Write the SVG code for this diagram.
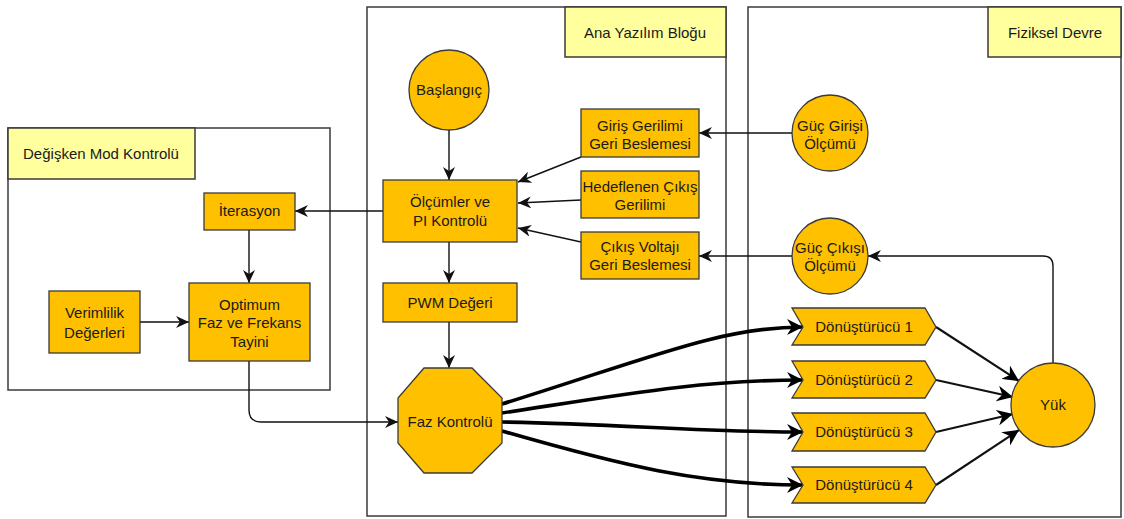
<svg xmlns="http://www.w3.org/2000/svg" width="1124" height="519" viewBox="0 0 1124 519">
<style>
text{font-family:"Liberation Sans",Arial,sans-serif;font-size:15px;fill:#1a1a1a;text-anchor:middle}
.frame{fill:#fff;stroke:#3a3a3a;stroke-width:1.5}
.lbl{fill:#FFFF9E;stroke:#3a3a3a;stroke-width:1.5}
.nd{fill:#FFC000;stroke:#3a3a3a;stroke-width:1.3}
.ln{fill:none;stroke:#111;stroke-width:1.4}
.mid{fill:none;stroke:#111;stroke-width:2.1}
.thick{fill:none;stroke:#000;stroke-width:3.6}
</style>
<defs>
<marker id="a" markerUnits="userSpaceOnUse" markerWidth="14" markerHeight="12" refX="13" refY="6" orient="auto">
<path d="M0,0 L13,6 L0,12 L4,6 z" fill="#111"/>
</marker>
<marker id="b" markerUnits="userSpaceOnUse" markerWidth="17" markerHeight="16" refX="16" refY="8" orient="auto">
<path d="M0,0 L16,8 L0,16 L5,8 z" fill="#000"/>
</marker>
</defs>
<rect width="1124" height="519" fill="#fff"/>
<g id="frames">
<g id="degisken-mod">
<rect class="frame" x="8" y="128" width="322" height="262"/>
<rect class="lbl" x="8" y="128" width="187" height="51"/>
<text x="101" y="159">Değişken Mod Kontrolü</text>
</g>
<g id="ana-yazilim">
<rect class="frame" x="367" y="7" width="359" height="509"/>
<rect class="lbl" x="565" y="7" width="161" height="50"/>
<text x="645" y="38">Ana Yazılım Bloğu</text>
</g>
<g id="fiziksel">
<rect class="frame" x="748" y="7" width="373" height="510"/>
<rect class="lbl" x="988" y="7" width="133" height="50"/>
<text x="1055" y="38">Fiziksel Devre</text>
</g>
</g>
<g id="connectors">
<path class="ln" d="M449,130 L449,180" marker-end="url(#a)"/>
<path class="ln" d="M581,157 L518,182" marker-end="url(#a)"/>
<path class="ln" d="M581,200 L518,203" marker-end="url(#a)"/>
<path class="ln" d="M581,242 L518,228" marker-end="url(#a)"/>
<path class="ln" d="M792,133 L699,133" marker-end="url(#a)"/>
<path class="ln" d="M792,256 L699,256" marker-end="url(#a)"/>
<path class="ln" d="M383,211 L295,211" marker-end="url(#a)"/>
<path class="ln" d="M249,230 L249,283" marker-end="url(#a)"/>
<path class="ln" d="M140,322 L189,322" marker-end="url(#a)"/>
<path class="ln" d="M449,242 L449,283" marker-end="url(#a)"/>
<path class="ln" d="M449,322 L449,368" marker-end="url(#a)"/>
<path class="ln" d="M249,361 L249,410 Q249,422 261,422 L398,422" marker-end="url(#a)"/>
<path class="ln" d="M1053,363 L1053,266 Q1053,256 1043,256 L868,256" marker-end="url(#a)"/>
<path class="thick" d="M502,404 C650,358 720,327 803,327" marker-end="url(#b)"/>
<path class="thick" d="M502,413 C620,395 700,380 803,380" marker-end="url(#b)"/>
<path class="thick" d="M502,422 C620,424 700,432 803,432" marker-end="url(#b)"/>
<path class="thick" d="M502,431 C620,465 700,485 803,485" marker-end="url(#b)"/>
<path class="mid" d="M936,327 L1019,381" marker-end="url(#b)"/>
<path class="mid" d="M936,380 L1013,397" marker-end="url(#b)"/>
<path class="mid" d="M936,432 L1013,414" marker-end="url(#b)"/>
<path class="mid" d="M936,485 L1019,430" marker-end="url(#b)"/>
</g>
<g id="baslangic"><circle class="nd" cx="449" cy="90" r="40"/><text x="449" y="95">Başlangıç</text></g>
<g id="giris-gerilimi"><rect class="nd" x="581" y="109" width="118" height="48"/><text x="640" y="131">Giriş Gerilimi</text><text x="640" y="149">Geri Beslemesi</text></g>
<g id="hedeflenen"><rect class="nd" x="581" y="171" width="118" height="47"/><text x="640" y="192">Hedeflenen Çıkış</text><text x="640" y="210">Gerilimi</text></g>
<g id="cikis-voltaji"><rect class="nd" x="581" y="232" width="118" height="47"/><text x="640" y="252">Çıkış Voltajı</text><text x="640" y="270">Geri Beslemesi</text></g>
<g id="olcumler"><rect class="nd" x="383" y="180" width="134" height="62"/><text x="450" y="207">Ölçümler ve</text><text x="450" y="226">PI Kontrolü</text></g>
<g id="pwm"><rect class="nd" x="383" y="283" width="134" height="39"/><text x="450" y="308">PWM Değeri</text></g>
<g id="faz-kontrolu"><polygon class="nd" points="424,368 472,368 502,398 502,443 472,473 424,473 398,443 398,398"/><text x="450" y="427">Faz Kontrolü</text></g>
<g id="iterasyon"><rect class="nd" x="204" y="193" width="91" height="37"/><text x="249.5" y="216">İterasyon</text></g>
<g id="optimum"><rect class="nd" x="189" y="283" width="121" height="78"/><text x="249.5" y="310">Optimum</text><text x="249.5" y="328">Faz ve Frekans</text><text x="249.5" y="347">Tayini</text></g>
<g id="verimlilik"><rect class="nd" x="49" y="291" width="91" height="62"/><text x="94.5" y="318">Verimlilik</text><text x="94.5" y="338">Değerleri</text></g>
<g id="guc-girisi"><circle class="nd" cx="830" cy="133" r="38"/><text x="830" y="131">Güç Girişi</text><text x="830" y="149">Ölçümü</text></g>
<g id="guc-cikisi"><circle class="nd" cx="830" cy="256" r="38"/><text x="830" y="253">Güç Çıkışı</text><text x="830" y="271">Ölçümü</text></g>
<g id="donusturucu1"><polygon class="nd" points="792,308 925,308 936,327 925,345 792,345 803,327"/><text x="864" y="332">Dönüştürücü 1</text></g>
<g id="donusturucu2"><polygon class="nd" points="792,361 925,361 936,380 925,398 792,398 803,380"/><text x="864" y="385">Dönüştürücü 2</text></g>
<g id="donusturucu3"><polygon class="nd" points="792,413 925,413 936,432 925,451 792,451 803,432"/><text x="864" y="437">Dönüştürücü 3</text></g>
<g id="donusturucu4"><polygon class="nd" points="792,467 925,467 936,485 925,503 792,503 803,485"/><text x="864" y="490">Dönüştürücü 4</text></g>
<g id="yuk"><circle class="nd" cx="1053" cy="405" r="42"/><text x="1053" y="410">Yük</text></g>
</svg>
